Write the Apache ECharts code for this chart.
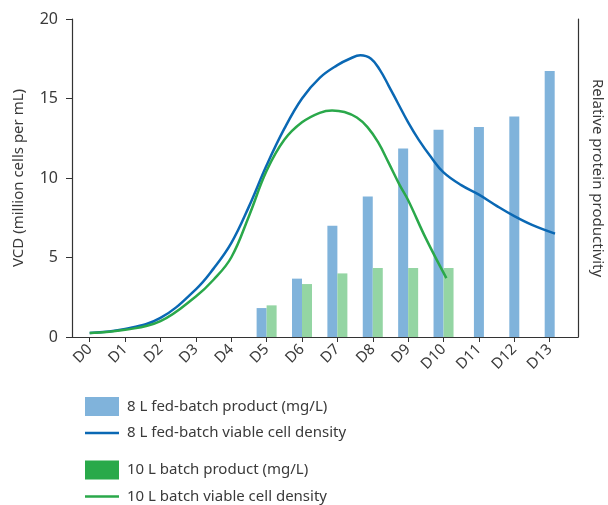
<!DOCTYPE html>
<html>
<head>
<meta charset="utf-8">
<script src="https://cdn.jsdelivr.net/npm/echarts@6/dist/echarts.min.js"></script>
<style>html,body{margin:0;padding:0;background:#fff}#c{width:608px;height:505px}</style>
</head>
<body>
<div id="c"></div>
<script>
// ---- data ----
const dayTicks = [0,1,2,3,4,5,6,7,8,9,10,11,12,13];
const dayLabels = ['D0','D1','D2','D3','D4','D5','D6','D7','D8','D9','D10','D11','D12','D13'];

const fedProductDays = [5,6,7,8,9,10,11,12,13];
const fedProduct = [1.82,3.67,7.0,8.84,11.86,13.04,13.2,13.87,16.73];

const batchProductDays = [5,6,7,8,9,10];
const batchProduct = [1.99,3.33,4.0,4.34,4.34,4.34];

const fedVcdDays = [0,1,2,3,3.5,4,4.5,5,5.5,6,6.5,7,7.35,7.65,7.95,8.2,8.45,8.7,9,9.3,9.65,10,10.5,11,11.5,12,12.5,13.15];
const fedVcd     = [0.25,0.5,1.2,3.0,4.3,5.9,8.2,10.8,13.1,15.0,16.3,17.1,17.5,17.72,17.5,16.8,15.8,14.75,13.5,12.4,11.3,10.35,9.55,8.95,8.25,7.6,7.05,6.5];

const batchVcdDays = [0,1,2,3,3.5,4,4.5,5,5.5,6,6.5,6.85,7.2,7.55,7.85,8.15,8.45,8.75,9,9.5,10.08];
const batchVcd     = [0.25,0.45,1.0,2.55,3.6,5.0,7.6,10.45,12.4,13.5,14.1,14.25,14.15,13.8,13.2,12.25,10.95,9.6,8.6,6.2,3.7];

const names = {
  fedProd: '8 L fed-batch product (mg/L)',
  fedVcd: '8 L fed-batch viable cell density',
  batchProd: '10 L batch product (mg/L)',
  batchVcd: '10 L batch viable cell density'
};
const yLeftName = 'VCD (million cells per mL)';
const yRightName = 'Relative protein productivity';

// ---- build ----
const pair = (xs, ys) => xs.map((x, i) => [x, ys[i]]);
const pairedDays = new Set(batchProductDays);
const fedPaired = pair(fedProductDays, fedProduct).filter(p => pairedDays.has(p[0]));
const fedAlone = pair(fedProductDays, fedProduct).filter(p => !pairedDays.has(p[0]));

const FONT = 'Noto Sans';
const TXT = '#3a3a3a';
const BLUE_BAR = '#80b3db', GREEN_BAR = '#94d5a3', BLUE_LINE = '#0a68b4', GREEN_LINE = '#2aa84a', GREEN_LEG = '#29a94a';

const xAxisBase = {
  type: 'value', min: -0.5, max: 13.8, gridIndex: 0,
  splitLine: {show: false}
};

function legendRow(name, top, isBar, color) {
  return {
    orient: 'vertical', left: 85, top: top, padding: 0,
    itemWidth: 34, itemHeight: isBar ? 19 : 2.5,
    textStyle: {fontSize: 15, color: TXT, fontFamily: FONT, lineHeight: 20, padding: [0,0,0,3]},
    data: [{name: name, icon: 'rect', itemStyle: {color: color, borderWidth: 0}}]
  };
}

const chart = echarts.init(document.getElementById('c'), null, {renderer: 'canvas'});
chart.setOption({
  animation: false,
  textStyle: {fontFamily: FONT, color: TXT},
  grid: {left: 72, right: 30, top: 19, bottom: 168, containLabel: false, outerBoundsMode: 'none'},
  xAxis: [
    Object.assign({}, xAxisBase, {
      position: 'bottom',
      axisLine: {show: true, onZero: false, lineStyle: {color: '#333', width: 1.2}},
      axisTick: {show: true, length: 5, customValues: dayTicks, lineStyle: {color: '#333'}},
      axisLabel: {show: true, customValues: dayTicks, rotate: 45, margin: 10,
        fontSize: 15, color: TXT, fontFamily: FONT,
        formatter: v => dayLabels[dayTicks.indexOf(Math.round(v))] || ''}
    }),
    Object.assign({}, xAxisBase, {show: false})
  ],
  yAxis: [
    {
      type: 'value', min: 0, max: 20, interval: 5, position: 'left',
      axisLine: {show: true, onZero: false, lineStyle: {color: '#333', width: 1.2}},
      axisTick: {show: true, length: 6, lineStyle: {color: '#333'}},
      axisLabel: {fontSize: 16, color: TXT, margin: 14, fontFamily: FONT},
      splitLine: {show: false},
      name: yLeftName, nameLocation: 'middle', nameRotate: 90, nameGap: 46,
      nameTextStyle: {fontSize: 15, color: TXT, fontFamily: FONT}
    },
    {
      type: 'value', min: 0, max: 20, position: 'right',
      axisLine: {show: true, onZero: false, lineStyle: {color: '#333', width: 1.2}},
      axisTick: {show: false}, axisLabel: {show: false}, splitLine: {show: false},
      name: yRightName, nameLocation: 'middle', nameRotate: -90, nameGap: 12,
      nameTextStyle: {fontSize: 15, color: TXT, fontFamily: FONT}
    }
  ],
  legend: [
    legendRow(names.fedProd, 396.5, true, BLUE_BAR),
    legendRow(names.fedVcd, 423, false, BLUE_LINE),
    legendRow(names.batchProd, 460, true, GREEN_LEG),
    legendRow(names.batchVcd, 486.5, false, GREEN_LINE)
  ],
  series: [
    {
      name: names.fedProd, type: 'bar', xAxisIndex: 0, yAxisIndex: 0,
      barWidth: 10, barGap: '0%', data: fedPaired,
      itemStyle: {color: BLUE_BAR}
    },
    {
      name: names.batchProd, type: 'bar', xAxisIndex: 0, yAxisIndex: 0,
      barWidth: 10, barGap: '0%', data: pair(batchProductDays, batchProduct),
      itemStyle: {color: GREEN_BAR}
    },
    {
      name: names.fedProd, type: 'bar', xAxisIndex: 1, yAxisIndex: 0,
      barWidth: 10, data: fedAlone,
      itemStyle: {color: BLUE_BAR}
    },
    {
      name: names.fedVcd, type: 'line', xAxisIndex: 0, yAxisIndex: 0,
      data: pair(fedVcdDays, fedVcd), smooth: 0.4, symbol: 'none', showSymbol: false,
      lineStyle: {color: BLUE_LINE, width: 2.5}, itemStyle: {color: BLUE_LINE}, z: 5
    },
    {
      name: names.batchVcd, type: 'line', xAxisIndex: 0, yAxisIndex: 0,
      data: pair(batchVcdDays, batchVcd), smooth: 0.4, symbol: 'none', showSymbol: false,
      lineStyle: {color: GREEN_LINE, width: 2.5}, itemStyle: {color: GREEN_LINE}, z: 5
    }
  ]
});
</script>
</body>
</html>
